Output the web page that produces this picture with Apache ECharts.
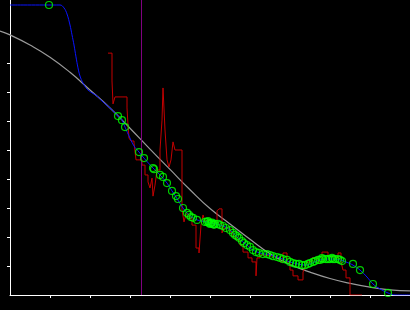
<!DOCTYPE html>
<html><head><meta charset="utf-8">
<script src="https://cdn.jsdelivr.net/npm/echarts@6/dist/echarts.min.js"></script>
<style>html,body{margin:0;padding:0;background:#000}#c{width:410px;height:310px}</style>
</head><body><div id="c"></div>
<script>
// Gray smooth reference curve
const grayX = [-0.25,0,0.5,1,1.5,2,2.5,3,3.5,4,4.5,5,5.5,6,6.5,7,7.5,8,8.5,9,9.5,10];
const grayY = [9.10,8.97,8.62,8.2,7.68,7.07,6.45,5.75,5.03,4.33,3.63,2.98,2.45,1.92,1.42,1.05,0.79,0.57,0.40,0.27,0.18,0.14];

// Blue fitted curve
const blueX = [0,1.25,1.35,1.425,1.5,1.55,1.6,1.65,1.7,1.75,1.825,1.925,2.05,2.175,2.3,2.5,2.7,2.8,2.875,3.0,3.1,3.225,3.35,3.575,3.75,3.925,4.05,4.15,4.325,4.475,4.675,4.925,5.125,5.325,5.5,5.7,5.925,6.075,6.25,6.5,6.75,7.0,7.2,7.375,7.55,7.75,8.0,8.25,8.4,8.575,8.75,8.925,9.075,9.25,9.45,9.625,10];
const blueY = [10,10,9.90,9.69,9.31,8.97,8.62,8.21,7.83,7.55,7.31,7.10,6.97,6.86,6.69,6.45,6.17,6.03,5.79,5.41,5.14,4.93,4.72,4.38,4.14,3.86,3.59,3.38,3.0,2.76,2.59,2.52,2.45,2.38,2.24,1.97,1.72,1.55,1.45,1.38,1.28,1.14,1.07,1.03,1.10,1.21,1.24,1.21,1.14,1.03,0.86,0.62,0.38,0.21,0.07,0,0];

// Green measured points
const ptX = [0.975,2.7,2.8,2.875,3.225,3.35,3.575,3.6,3.75,3.825,3.925,4.05,4.15,4.2,4.325,4.425,4.475,4.525,4.575,4.675,4.875,4.925,4.95,4.975,5.0,5.025,5.05,5.075,5.1,5.125,5.2,5.25,5.325,5.4,5.5,5.575,5.625,5.675,5.725,5.8,5.85,5.925,6.0,6.075,6.15,6.225,6.325,6.425,6.5,6.575,6.675,6.75,6.825,6.925,7.0,7.075,7.15,7.225,7.3,7.375,7.45,7.5,7.575,7.625,7.7,7.75,7.8,7.825,7.9,7.95,8.0,8.05,8.075,8.125,8.2,8.25,8.3,8.575,8.75,9.075,9.45];
const ptY = [10.0,6.17,6.03,5.79,4.93,4.72,4.38,4.34,4.14,4.07,3.86,3.59,3.41,3.31,3.0,2.83,2.76,2.69,2.66,2.59,2.52,2.52,2.55,2.48,2.45,2.48,2.50,2.45,2.42,2.45,2.45,2.41,2.38,2.31,2.24,2.14,2.07,2.03,1.97,1.86,1.79,1.72,1.66,1.55,1.48,1.45,1.41,1.41,1.38,1.34,1.31,1.28,1.24,1.21,1.14,1.10,1.07,1.07,1.03,1.03,1.07,1.10,1.14,1.17,1.21,1.21,1.27,1.24,1.24,1.24,1.24,1.28,1.24,1.24,1.24,1.21,1.17,1.07,0.86,0.38,0.07];

// Red step histogram (left edge, level)
const redX = [2.45,2.55,2.575,2.625,2.925,2.95,2.975,3.025,3.1,3.15,3.3,3.375,3.45,3.5,3.55,3.575,3.625,3.675,3.75,3.8,3.825,3.875,3.925,3.975,4.025,4.075,4.125,4.175,4.3,4.35,4.4,4.475,4.55,4.65,4.725,4.775,4.825,4.875,5.05,5.175,5.225,5.3,5.35,5.5,5.575,5.675,5.75,5.825,5.95,6.05,6.15,6.175,6.25,6.375,6.55,6.75,6.825,6.925,7.0,7.075,7.2,7.325,7.375,7.425,7.55,7.7,7.8,7.95,8.075,8.2,8.275,8.325,8.4,8.5,8.8];
const redY = [8.34,7.38,6.59,6.83,6.45,5.86,5.41,5.31,5.24,4.66,4.48,4.14,3.90,3.69,4.03,3.41,3.79,4.31,5.0,6.03,7.14,5.69,4.66,4.41,4.66,5.28,5.0,5.0,2.93,2.52,2.79,2.66,2.41,1.62,1.45,2.41,2.76,2.55,2.48,2.90,2.97,2.14,2.31,2.17,2.0,1.90,1.72,1.48,1.28,1.14,0.66,1.28,1.38,1.34,1.28,1.14,1.45,1.14,0.86,0.66,0.52,0.79,0.93,1.14,1.28,1.14,1.48,1.34,1.28,1.45,1.14,0.86,0.59,0,0];

// Vertical marker line
const vlineX = [3.275];

// Tick positions (no labels)
const xTicks = [1,2,3,4,5,6,7,8,9];
const yTicks = [1,2,3,4,5,6,7,8];

const zip = (a,b) => a.map((v,i)=>[v,b[i]]);
const yMax = 295/29;
const chart = echarts.init(document.getElementById('c'), null, {renderer:'canvas'});
chart.setOption({
  backgroundColor:'#000',
  animation:false,
  grid:[{left:10,right:0,top:0,bottom:15},{left:0,right:0,top:0,bottom:15}],
  xAxis:[{type:'value',gridIndex:0,min:0,max:10,
    axisLine:{show:true,lineStyle:{color:'#fff',width:1}},
    axisTick:{show:true,length:3,inside:false,customValues:xTicks,lineStyle:{color:'#fff',width:1}},
    axisLabel:{show:false},splitLine:{show:false}},
    {type:'value',gridIndex:1,min:-0.25,max:10,show:false,splitLine:{show:false}}],
  yAxis:[{type:'value',gridIndex:0,min:0,max:yMax,
    axisLine:{show:true,lineStyle:{color:'#fff',width:1}},
    axisTick:{show:true,length:3,inside:false,customValues:yTicks,lineStyle:{color:'#fff',width:1}},
    axisLabel:{show:false},splitLine:{show:false}},
    {type:'value',gridIndex:1,min:0,max:yMax,show:false,splitLine:{show:false}}],
  series:[
    {type:'line',xAxisIndex:1,yAxisIndex:1,data:zip(grayX,grayY),smooth:true,showSymbol:false,
      lineStyle:{color:'#9a9a9a',width:1.2},z:2},
    {type:'line',data:[],markLine:{silent:true,symbol:'none',label:{show:false},
        lineStyle:{color:'#800080',width:1,type:'solid'},
        data:vlineX.map(x=>({xAxis:x}))},z:2},
    {type:'line',data:zip(redX,redY),step:'end',showSymbol:false,
      lineStyle:{color:'#c40000',width:1},z:3},
    {type:'line',data:zip(blueX,blueY),smooth:0.4,showSymbol:false,
      lineStyle:{color:'#0a14ff',width:1},z:4},
    {type:'scatter',data:zip(ptX,ptY),symbol:'circle',symbolSize:7,
      itemStyle:{color:'rgba(0,0,0,0)',borderColor:'#00ff00',borderWidth:1.2},z:5}
  ]
});
</script></body></html>
